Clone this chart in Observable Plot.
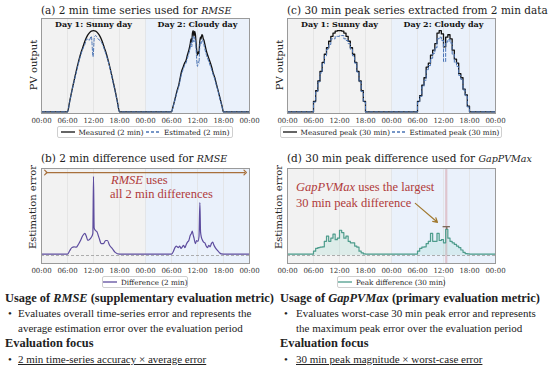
<!DOCTYPE html>
<html><head><meta charset="utf-8">
<script src="https://cdn.jsdelivr.net/npm/d3@7"></script>
<script src="https://cdn.jsdelivr.net/npm/@observablehq/plot@0.6"></script>
<style>
body{margin:0;background:#fff;}
#root{position:relative;width:550px;height:366px;overflow:hidden;font-family:"DejaVu Serif",serif;color:#222;}
.abs{position:absolute;white-space:nowrap;}
.ttl{font-size:10.5px;line-height:12px;}
.ttl i{font-size:9.5px;}
.ylab{font-size:10px;line-height:11px;transform:translate(-50%,-50%) rotate(-90deg);}
.leg{position:absolute;box-sizing:border-box;border:1px solid #cfcfcf;border-radius:2px;background:#fff;font-size:7.2px;height:12px;display:flex;align-items:center;justify-content:space-evenly;white-space:nowrap;}
.leg span{display:flex;align-items:center;gap:4px;white-space:nowrap;flex:none;}
.ann{font-family:"Liberation Serif",serif;font-size:12.5px;line-height:14px;color:#b03a3a;}
.bt{font-family:"Liberation Serif",serif;color:#222;}
.h{font-size:12.4px;font-weight:bold;line-height:14px;}
.b{font-size:11px;line-height:14px;}
</style></head>
<body><div id="root"></div>
<script>
// ---------- data ----------
const hourTicks = [0,6,12,18,24,30,36,42,48];
const tickLabels = ["00:00","06:00","12:00","18:00","00:00","06:00","12:00","18:00","00:00"];
const dayBands = [{x1:0,x2:24},{x1:24,x2:48}];
const dayLabels = [{x:12,label:"Day 1: Sunny day"},{x:36,label:"Day 2: Cloudy day"}];

// (a) 2 min series [hour, value]
const measured2 = [[0,0],[6,0],[6.5,.13],[7,.26],[7.5,.38],[8,.50],[8.5,.61],[9,.71],[9.5,.79],[10,.87],[10.5,.93],[11,.97],[11.5,.995],[12,1.0],[12.5,.995],[13,.97],[13.5,.93],[14,.87],[14.5,.79],[15,.71],[15.5,.61],[16,.50],[16.5,.38],[17,.26],[17.5,.13],[18,0],
 [30,0],[30.33,.06],[30.67,.13],[31,.20],[31.33,.27],[31.67,.33],[32,.42],[32.33,.50],[32.67,.55],[33,.60],[33.33,.63],[33.67,.70],[34,.76],[34.33,.84],[34.5,.90],[34.67,.86],[34.83,.97],[35,1.0],[35.17,.93],[35.33,.99],[35.5,.96],[35.67,.85],[35.83,.75],[36,.70],[36.17,.74],[36.33,.72],[36.5,.85],[36.67,.92],[36.83,.90],[37,.95],[37.17,.94],[37.33,.90],[37.5,.88],[37.67,.84],[38,.76],[38.33,.70],[38.67,.65],[39,.60],[39.33,.54],[39.67,.47],[40,.42],[40.33,.35],[40.67,.28],[41,.21],[41.33,.14],[41.67,.07],[42,0],[48,0]];
const estimated2 = [[0,0],[6,0],[6.5,.12],[7,.25],[7.5,.37],[8,.48],[8.5,.59],[9,.69],[9.5,.77],[10,.83],[10.5,.90],[11,.88],[11.5,.93],[11.9,.68],[12.2,.92],[12.5,.94],[13,.90],[13.5,.88],[14,.84],[14.5,.77],[15,.69],[15.5,.60],[16,.49],[16.5,.37],[17,.25],[17.5,.12],[18,0],
 [30,0],[30.33,.05],[30.67,.12],[31,.19],[31.33,.25],[31.67,.31],[32,.39],[32.33,.47],[32.67,.52],[33,.57],[33.33,.60],[33.67,.66],[34,.72],[34.33,.79],[34.5,.85],[34.67,.80],[34.83,.90],[35,.93],[35.17,.86],[35.33,.92],[35.5,.88],[35.67,.78],[35.83,.62],[36,.56],[36.17,.62],[36.33,.60],[36.5,.78],[36.67,.86],[36.83,.84],[37,.89],[37.17,.88],[37.33,.85],[37.5,.82],[37.67,.78],[38,.71],[38.33,.66],[38.67,.61],[39,.56],[39.33,.51],[39.67,.45],[40,.40],[40.33,.33],[40.67,.27],[41,.20],[41.33,.13],[41.67,.06],[42,0],[48,0]];

// (b) 2 min difference
const diff2 = [[0,.018],[6,.018],[6.5,.06],[7,.10],[7.5,.11],[8,.105],[8.5,.14],[9,.19],[9.5,.25],[10,.28],[10.3,.25],[10.7,.19],[11,.20],[11.5,.23],[11.85,.28],[12,1.0],[12.15,.35],[12.4,.32],[12.8,.30],[13.3,.22],[13.8,.15],[14.3,.15],[14.8,.19],[15.2,.19],[15.7,.13],[16.3,.09],[17,.04],[18,.018],
 [30,.018],[30.5,.06],[30.8,.10],[31.1,.12],[31.3,.11],[31.6,.10],[31.9,.12],[32.2,.09],[32.5,.11],[32.8,.13],[33.1,.10],[33.4,.14],[33.7,.17],[34,.19],[34.3,.25],[34.6,.28],[34.8,.31],[35,.26],[35.2,.22],[35.5,.15],[35.8,.19],[36.1,.18],[36.35,.24],[36.55,.67],[36.7,.30],[36.9,.23],[37.1,.20],[37.4,.17],[37.7,.16],[38,.12],[38.3,.10],[38.6,.13],[38.9,.11],[39.2,.15],[39.5,.17],[39.8,.13],[40.1,.10],[40.5,.07],[41,.04],[41.5,.02],[42,.018],[48,.018]];

// (c) 30 min peaks (value holds from the given hour for 30 min)
const measuredPeak = [[0,0],[6,.13],[6.5,.26],[7,.38],[7.5,.50],[8,.61],[8.5,.71],[9,.79],[9.5,.87],[10,.93],[10.5,.97],[11,.995],[11.5,1.0],[12,1.0],[12.5,.995],[13,.97],[13.5,.93],[14,.87],[14.5,.79],[15,.71],[15.5,.61],[16,.50],[16.5,.38],[17,.26],[17.5,.13],[18,0],
 [30,.13],[30.5,.20],[31,.33],[31.5,.42],[32,.55],[32.5,.60],[33,.70],[33.5,.76],[34,.84],[34.5,.97],[35,1.0],[35.5,.96],[36,.80],[36.5,.92],[37,.95],[37.5,.90],[38,.76],[38.5,.65],[39,.60],[39.5,.47],[40,.42],[40.5,.28],[41,.21],[41.5,.07],[42,0],[48,0]];
const estimatedPeak = [[0,0],[6,.12],[6.5,.25],[7,.37],[7.5,.48],[8,.59],[8.5,.69],[9,.77],[9.5,.83],[10,.90],[10.5,.90],[11,.93],[11.5,.93],[12,.94],[12.5,.94],[13,.90],[13.5,.88],[14,.84],[14.5,.77],[15,.69],[15.5,.60],[16,.49],[16.5,.37],[17,.25],[17.5,.12],[18,0],
 [30,.12],[30.5,.19],[31,.31],[31.5,.39],[32,.52],[32.5,.57],[33,.66],[33.5,.72],[34,.79],[34.5,.90],[35,.92],[35.5,.88],[36,.62],[36.5,.86],[37,.89],[37.5,.85],[38,.71],[38.5,.61],[39,.56],[39.5,.45],[40,.40],[40.5,.27],[41,.20],[41.5,.06],[42,0],[48,0]];

// (d) 30 min peak difference
const peakDiff = [[0,.018],[6,.055],[6.5,.09],[7,.10],[7.5,.105],[8,.11],[8.5,.18],[9,.245],[9.5,.18],[10,.22],[10.5,.27],[11,.20],[11.5,.22],[12,.32],[12.5,.29],[13,.22],[13.5,.245],[14,.18],[14.5,.16],[15,.16],[15.5,.12],[16,.105],[16.5,.055],[17,.034],[17.5,.02],[18,.018],
 [30,.055],[30.5,.09],[31,.105],[31.5,.11],[32,.15],[32.5,.18],[33,.28],[33.5,.18],[34,.18],[34.5,.28],[35,.19],[35.5,.20],[36,.16],[36.5,.33],[37,.22],[37.5,.18],[38,.16],[38.5,.14],[39,.12],[39.5,.10],[40,.07],[40.5,.04],[41,.025],[41.5,.02],[42,.018],[48,.018]];
const worstPeak = {x1:36.5, x2:37.0, value:.33, cap:.365};

// ---------- helpers ----------
const fmt = new Map(hourTicks.map((h,i)=>[h,tickLabels[i]]));
const root = document.getElementById("root");
function place(el, left, top){ el.style.position="absolute"; el.style.left=left+"px"; el.style.top=top+"px"; root.appendChild(el); return el; }
function html(cls, left, top, inner){ const d=document.createElement("div"); d.className="abs "+cls; d.innerHTML=inner; return place(d,left,top); }

function panel({left, top, w, h, ml, mr, mt, mb, yDomain, marks, dayText}){
  const chart = Plot.plot({
    width:w, height:h, marginLeft:ml, marginRight:mr, marginTop:mt, marginBottom:mb,
    x:{domain:[0,48], ticks:hourTicks, tickFormat:d=>fmt.get(d), tickSize:0, tickPadding:5, label:null},
    y:{domain:yDomain, axis:null},
    style:{fontFamily:"DejaVu Serif", fontSize:"7px", color:"#333", background:"transparent", overflow:"visible"},
    marks:[
      Plot.rect(dayBands,{x1:"x1",x2:"x2",y1:()=>yDomain[0],y2:()=>yDomain[1],fill:(d,i)=>d.x1<24?"#f2f2f2":"#eaf1fb"}),
      Plot.ruleX(hourTicks,{stroke:"#e0e0e0",strokeWidth:0.7}),
      ...marks,
      dayText ? Plot.text(dayLabels,{x:"x",text:"label",frameAnchor:"top",lineAnchor:"middle",dy:6,fontWeight:"bold",fontSize:8,fill:"#111"}) : null,
      Plot.frame({stroke:"#9a9a9a"})
    ]
  });
  place(chart,left,top);
  return chart;
}
const X = d=>d[0], Y = d=>d[1];
const yTop = [-0.02, 1.15];
const yBot = [-0.101, 1.101];

// (a)
panel({left:0, top:0, w:275, h:140, ml:41, mr:26, mt:18, mb:27, yDomain:yTop, dayText:true, marks:[
  Plot.line(measured2,{x:X,y:Y,stroke:"#111",strokeWidth:1.3,curve:"monotone-x"}),
  Plot.line(estimated2,{x:X,y:Y,stroke:"#4a74b5",strokeWidth:1,strokeDasharray:"3,2",curve:"monotone-x"})
]});
// (c)
panel({left:275, top:0, w:275, h:140, ml:12, mr:55, mt:18, mb:27, yDomain:yTop, dayText:true, marks:[
  Plot.line(measuredPeak,{x:X,y:Y,stroke:"#111",strokeWidth:1.3,curve:"step-after"}),
  Plot.line(estimatedPeak,{x:X,y:Y,stroke:"#4a74b5",strokeWidth:1,strokeDasharray:"3,2",curve:"step-after"})
]});
// (b)
panel({left:0, top:140, w:275, h:145, ml:41, mr:26, mt:28, mb:22, yDomain:yBot, marks:[
  Plot.ruleY([0],{stroke:"#999",strokeWidth:0.8,strokeDasharray:"3,2"}),
  Plot.line(diff2,{x:X,y:Y,stroke:"#5d4c9e",strokeWidth:1.2,curve:"monotone-x"}),
  Plot.link([{x1:1,x2:47,y:1.05}],{x1:"x1",x2:"x2",y1:"y",y2:"y",stroke:"#a8703c",strokeWidth:1.2,markerStart:"arrow",markerEnd:"arrow"})
]});
// (d)
panel({left:275, top:140, w:275, h:145, ml:12, mr:55, mt:28, mb:22, yDomain:yBot, marks:[
  Plot.rect([worstPeak],{x1:"x1",x2:"x2",y1:()=>yBot[0],y2:()=>yBot[1],fill:"#d49aa2",fillOpacity:0.5}),
  Plot.areaY(peakDiff,{x:X,y:Y,fill:"#7fd3c4",fillOpacity:0.18,curve:"step-after"}),
  Plot.ruleY([0],{stroke:"#999",strokeWidth:0.8,strokeDasharray:"3,2"}),
  Plot.line(peakDiff,{x:X,y:Y,stroke:"#4e9c8c",strokeWidth:1.2,curve:"step-after"}),
  Plot.ruleX([worstPeak],{x:d=>(d.x1+d.x2)/2,y1:"value",y2:"cap",stroke:"#7d6b5d",strokeWidth:1.3}),
  Plot.ruleY([worstPeak],{y:"cap",x1:d=>d.x1-0.6,x2:d=>d.x2+0.6,stroke:"#7d6b5d",strokeWidth:1.3}),
  Plot.arrow([{x1:29.5,y1:.66,x2:34.6,y2:.42}],{x1:"x1",y1:"y1",x2:"x2",y2:"y2",stroke:"#a0782e",strokeWidth:1.2,headLength:6})
]});

// titles
html("ttl",41,4,"(a) 2 min time series used for <i>RMSE</i>");
html("ttl",287,4,"(c) 30 min peak series extracted from 2 min data");
html("ttl",41,152,"(b) 2 min difference used for <i>RMSE</i>");
html("ttl",287,152,"(d) 30 min peak difference used for <i>GapPVMax</i>");
// y labels
html("ylab",33,65,"PV output");
html("ylab",279,65,"PV output");
html("ylab",32,207,"Estimation error");
html("ylab",278,207,"Estimation error");
// annotations
html("ann",111,173,"<i>RMSE</i> uses");
html("ann",110,187,"all 2 min differences");
html("ann",296,180,"<i>GapPVMax</i> uses the largest");
html("ann",296,196,"30 min peak difference");

// legends
function sw(color,dash){return `<svg width="14" height="4"><line x1="0" y1="2" x2="14" y2="2" stroke="${color}" stroke-width="1.3" ${dash?'stroke-dasharray="3,2"':''}/></svg>`;}
function legend(left,top,width,items){
  const d=document.createElement("div"); d.className="leg"; d.style.width=width+"px";
  d.innerHTML=items.map(it=>`<span>${sw(it.color,it.dash)}${it.label}</span>`).join("");
  place(d,left,top);
}
legend(57,126,176,[{label:"Measured (2 min)",color:"#111"},{label:"Estimated (2 min)",color:"#4a74b5",dash:true}]);
legend(280,126,222,[{label:"Measured peak (30 min)",color:"#111"},{label:"Estimated peak (30 min)",color:"#4a74b5",dash:true}]);
legend(102,276,86,[{label:"Difference (2 min)",color:"#5d4c9e"}]);
legend(337,276,108,[{label:"Peak difference (30 min)",color:"#4e9c8c"}]);

// bottom text
html("bt h",5,291,"Usage of <i>RMSE</i> (supplementary evaluation metric)");
html("bt b",8,306,"•");
html("bt b",18,306,"Evaluates overall time-series error and represents the");
html("bt b",18,321,"average estimation error over the evaluation period");
html("bt h",5,336,"Evaluation focus");
html("bt b",8,352,"•");
html("bt b",18,352,"<u>2 min time-series accuracy × average error</u>");

html("bt h",280,291,"Usage of <i>GapPVMax</i> (primary evaluation metric)");
html("bt b",284,306,"•");
html("bt b",296,306,"Evaluates worst-case 30 min peak error and represents");
html("bt b",296,321,"the maximum peak error over the evaluation period");
html("bt h",280,336,"Evaluation focus");
html("bt b",284,352,"•");
html("bt b",296,352,"<u>30 min peak magnitude × worst-case error</u>");
</script>
</body></html>
